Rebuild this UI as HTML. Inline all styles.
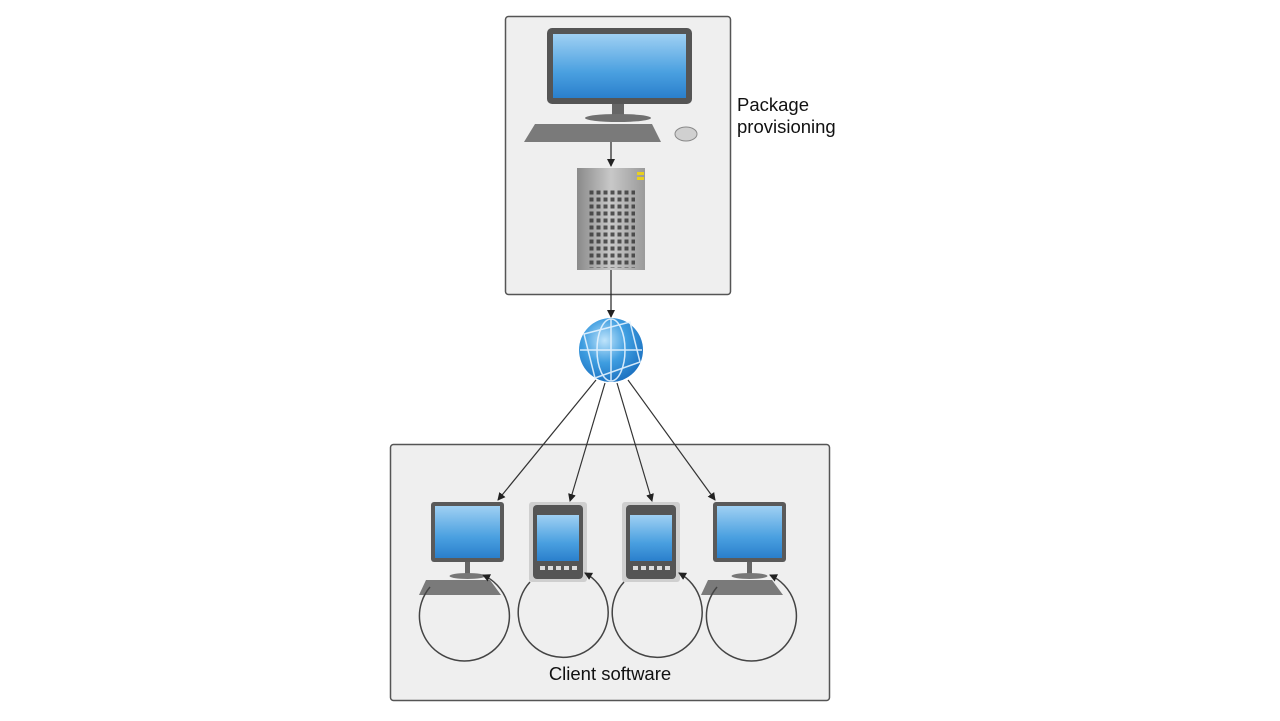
<!DOCTYPE html>
<html><head><meta charset="utf-8"><style>
html,body{margin:0;padding:0;background:#fff;}
svg{display:block;}
text{font-family:"Liberation Sans",sans-serif;fill:#111;}
</style></head><body>
<svg width="1280" height="721" viewBox="0 0 1280 721" xmlns="http://www.w3.org/2000/svg">
<defs>
<linearGradient id="scr" x1="0" y1="0" x2="0" y2="1">
<stop offset="0" stop-color="#9fd0f3"/><stop offset="0.6" stop-color="#4aa0e0"/><stop offset="1" stop-color="#2a7fcc"/>
</linearGradient>
<linearGradient id="srv" x1="0" y1="0" x2="1" y2="0">
<stop offset="0" stop-color="#8a8a8a"/><stop offset="0.5" stop-color="#c8c8c8"/><stop offset="1" stop-color="#9a9a9a"/>
</linearGradient>
<radialGradient id="glb" cx="0.4" cy="0.35" r="0.7">
<stop offset="0" stop-color="#bfe4fb"/><stop offset="0.5" stop-color="#3e9de0"/><stop offset="1" stop-color="#1a6fbf"/>
</radialGradient>
<pattern id="holes" x="0" y="0" width="7" height="7" patternUnits="userSpaceOnUse">
<rect x="1.5" y="1.5" width="4" height="4" fill="#333"/>
</pattern>
<marker id="ah" markerWidth="8" markerHeight="8" refX="7" refY="4" orient="auto" markerUnits="userSpaceOnUse">
<path d="M0,0 L8,4 L0,8 Z" fill="#222"/>
</marker>
<g id="mon">
<rect x="0" y="0" width="73" height="60" rx="3" fill="#5a5a5a"/>
<rect x="4" y="4" width="65" height="52" fill="url(#scr)"/>
<rect x="34" y="60" width="5" height="13" fill="#666"/>
<ellipse cx="36.5" cy="74" rx="18" ry="3" fill="#777"/>
<path d="M-5,78 L59,78 L70,93 L-12,93 Z" fill="#7a7a7a"/>
</g>
<g id="tab">
<rect x="-4" y="-3" width="58" height="80" rx="3" fill="#cfcfcf"/>
<rect x="0" y="0" width="50" height="74" rx="4" fill="#555"/>
<rect x="4" y="10" width="42" height="46" fill="url(#scr)"/>
<g fill="#ddd"><rect x="7" y="61" width="5" height="4"/><rect x="15" y="61" width="5" height="4"/><rect x="23" y="61" width="5" height="4"/><rect x="31" y="61" width="5" height="4"/><rect x="39" y="61" width="5" height="4"/></g>
</g>
</defs>

<rect x="505.5" y="16.5" width="225" height="278" rx="3" fill="#efefef" stroke="#555" stroke-width="1.5"/>
<rect x="547" y="28" width="145" height="76" rx="5" fill="#555"/>
<rect x="553" y="34" width="133" height="64" fill="url(#scr)"/>
<rect x="612" y="104" width="12" height="12" fill="#666"/>
<ellipse cx="618" cy="118" rx="33" ry="4" fill="#707070"/>
<path d="M535,124 L652,124 L661,142 L524,142 Z" fill="#7a7a7a"/>
<ellipse cx="686" cy="134" rx="11" ry="7" fill="#d0d0d0" stroke="#888"/>
<line x1="611" y1="142" x2="611" y2="166" stroke="#222" stroke-width="1.2" marker-end="url(#ah)"/>
<rect x="577" y="168" width="68" height="102" fill="url(#srv)"/>
<rect x="587" y="190" width="48" height="78" fill="url(#holes)" opacity="0.8"/>
<rect x="637" y="172" width="7" height="3" fill="#e8d020"/><rect x="637" y="177" width="7" height="3" fill="#e8d020"/>
<line x1="611" y1="270" x2="611" y2="317" stroke="#222" stroke-width="1.2" marker-end="url(#ah)"/>
<text x="737" y="111" font-size="18.5">Package</text>
<text x="737" y="133" font-size="18.5">provisioning</text>

<circle cx="611" cy="350" r="32" fill="url(#glb)"/>
<g stroke="#e6f4ff" stroke-width="1.5" fill="none" opacity="0.9">
<ellipse cx="611" cy="350" rx="14" ry="31"/>
<line x1="580" y1="350" x2="642" y2="350"/>
<line x1="611" y1="319" x2="611" y2="381"/>
<path d="M584,334 L630,322 L640,362 L595,378 Z"/>
</g>

<rect x="390.5" y="444.5" width="439" height="256" rx="3" fill="#efefef" stroke="#555" stroke-width="1.5"/>
<g stroke="#333" stroke-width="1.2" fill="none">
<line x1="596" y1="380" x2="498" y2="500" marker-end="url(#ah)"/>
<line x1="605" y1="383" x2="570" y2="501" marker-end="url(#ah)"/>
<line x1="617" y1="383" x2="652" y2="501" marker-end="url(#ah)"/>
<line x1="628" y1="380" x2="715" y2="500" marker-end="url(#ah)"/>
</g>
<use href="#mon" transform="translate(431,502)"/>
<use href="#tab" transform="translate(533,505)"/>
<use href="#tab" transform="translate(626,505)"/>
<use href="#mon" transform="translate(713,502)"/>
<g stroke="#444" stroke-width="1.5" fill="none">
<path d="M430,587 A45,45 0 1 0 483,575" marker-end="url(#ah)"/>
<path d="M530,582 A45,45 0 1 0 585,573" marker-end="url(#ah)"/>
<path d="M624,582 A45,45 0 1 0 679,573" marker-end="url(#ah)"/>
<path d="M717,587 A45,45 0 1 0 770,575" marker-end="url(#ah)"/>
</g>
<text x="610" y="680" font-size="18.5" text-anchor="middle">Client software</text>
</svg>
</body></html>
